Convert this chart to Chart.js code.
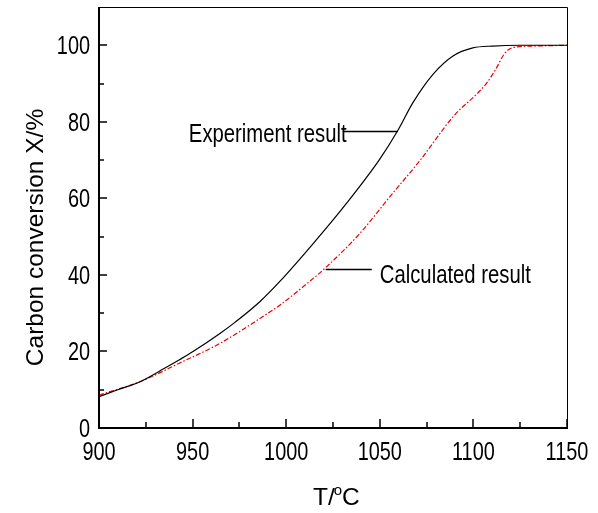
<!DOCTYPE html>
<html>
<head>
<meta charset="utf-8">
<script src="https://cdn.jsdelivr.net/npm/chart.js@4"></script>
<style>
  html, body { margin: 0; padding: 0; background: #fff; }
  #wrap { width: 598px; height: 513px; }
</style>
</head>
<body>
<div id="wrap"><canvas id="mychart" width="598" height="513"></canvas></div>
<script>
// experiment result (black)
const expT = [900, 910, 921.9, 935, 943.2, 950, 964.6, 972.6, 985.9, 996.6, 1014.4, 1032.2, 1049.9, 1059.7, 1067.7, 1078.4, 1089.1, 1099.7, 1110.4, 1125, 1150];
const expX = [8.2, 10.0, 12.1, 15.6, 17.9, 19.9, 24.7, 27.6, 33.0, 38.3, 48.2, 58.7, 70.2, 77.8, 85.0, 92.4, 97.2, 99.3, 99.8, 100, 100];
// calculated result (red)
const calT = [900, 921.9, 943.2, 964.6, 985.9, 996.6, 1008, 1020.6, 1039.3, 1055.3, 1071.3, 1089.1, 1106.9, 1112, 1116.6, 1121.1, 1133, 1150];
const calX = [8.6, 12.1, 17.0, 22.1, 28.6, 32.1, 36.5, 41.7, 50.8, 60.4, 69.8, 81.3, 90.0, 93.8, 97.8, 99.4, 99.8, 100];

const xTicks = [900, 950, 1000, 1050, 1100, 1150];
const xMinor = [925, 975, 1025, 1075, 1125];
const yTicks = [0, 20, 40, 60, 80, 100];
const yMinor = [10, 30, 50, 70, 90];

// label text, anchored in data units
const notes = [
  { text: "Experiment result", x: 948, y: 74.6, line: [1030.2, 1059.5, 77.5] },
  { text: "Calculated result", x: 1050, y: 38.0, line: [1021.1, 1045.7, 41.5] }
];

const ctx = document.getElementById("mychart");
const NARROW = 0.78;

function toPoints(xs, ys) {
  let pts = [];
  for (let i = 0; i < xs.length; i++) {
    pts.push({ x: xs[i], y: ys[i] });
  }
  return pts;
}

// condensed look: squeeze Arial-like text horizontally
function narrowText(c, text, x, y, align) {
  c.save();
  c.translate(x, y);
  c.scale(NARROW, 1);
  c.textAlign = align;
  c.fillText(text, 0, 0);
  c.restore();
}

const frame = {
  id: "frame",
  afterDatasetsDraw(chart) {
    const c = chart.ctx;
    const a = chart.chartArea;
    const xs = chart.scales.x;
    const ys = chart.scales.y;
    c.save();
    c.strokeStyle = "#000";
    c.fillStyle = "#000";
    // box
    c.lineWidth = 1;
    c.beginPath();
    c.moveTo(a.left, a.top + 0.5);
    c.lineTo(a.right + 0.5, a.top + 0.5);
    c.lineTo(a.right + 0.5, a.bottom);
    c.stroke();
    c.lineWidth = 2;
    c.beginPath();
    c.moveTo(a.left, a.top);
    c.lineTo(a.left, a.bottom);
    c.lineTo(a.right + 1, a.bottom);
    c.stroke();
    // inward ticks
    c.lineWidth = 1.5;
    c.beginPath();
    xTicks.forEach(v => { let p = Math.round(xs.getPixelForValue(v)); c.moveTo(p, a.bottom); c.lineTo(p, a.bottom - 9); });
    xMinor.forEach(v => { let p = Math.round(xs.getPixelForValue(v)); c.moveTo(p, a.bottom); c.lineTo(p, a.bottom - 6); });
    yTicks.forEach(v => { let p = Math.round(ys.getPixelForValue(v)); c.moveTo(a.left, p); c.lineTo(a.left + 8, p); });
    yMinor.forEach(v => { let p = Math.round(ys.getPixelForValue(v)); c.moveTo(a.left, p); c.lineTo(a.left + 5, p); });
    c.stroke();

    // tick labels
    c.font = "25.5px 'Liberation Sans', Arial";
    c.textBaseline = "alphabetic";
    xTicks.forEach(v => narrowText(c, String(v), xs.getPixelForValue(v), a.bottom + 32, "center"));
    yTicks.forEach(v => narrowText(c, String(v), a.left - 9, ys.getPixelForValue(v) + 9, "right"));

    // annotations
    c.font = "26px 'Liberation Sans', Arial";
    c.lineWidth = 1.5;
    notes.forEach(n => {
      narrowText(c, n.text, xs.getPixelForValue(n.x), ys.getPixelForValue(n.y), "left");
      let ly = Math.round(ys.getPixelForValue(n.line[2])) + 0.5;
      c.beginPath();
      c.moveTo(xs.getPixelForValue(n.line[0]), ly);
      c.lineTo(xs.getPixelForValue(n.line[1]), ly);
      c.stroke();
    });

    // axis titles
    c.font = "24.5px 'Liberation Sans', Arial";
    c.save();
    c.translate(43, (a.top + a.bottom) / 2 + 20);
    c.rotate(-Math.PI / 2);
    c.textAlign = "center";
    c.fillText("Carbon conversion X/%", 0, 0);
    c.restore();

    let tx = 313, ty = 505;
    c.textAlign = "left";
    c.fillText("T/", tx, ty);
    tx += c.measureText("T/").width;
    c.font = "15px 'Liberation Sans', Arial";
    c.fillText("o", tx - 1, ty - 10);
    tx += c.measureText("o").width - 1;
    c.font = "24.5px 'Liberation Sans', Arial";
    c.fillText("C", tx, ty);
    c.restore();
  }
};

let mychart = new Chart(ctx, {
  type: "line",
  data: {
    datasets: [
      {
        label: "Experiment result",
        data: toPoints(expT, expX),
        borderColor: "#000",
        borderWidth: 1.2,
        pointRadius: 0,
        fill: false,
        cubicInterpolationMode: "monotone"
      },
      {
        label: "Calculated result",
        data: toPoints(calT, calX),
        borderColor: "rgb(235,0,0)",
        borderWidth: 1.2,
        borderDash: [5, 2, 1.5, 2],
        pointRadius: 0,
        fill: false,
        cubicInterpolationMode: "monotone"
      }
    ]
  },
  options: {
    responsive: false,
    animation: false,
    layout: { padding: { left: 0, top: 7, right: 31, bottom: 0 } },
    plugins: { legend: { display: false }, tooltip: { enabled: false } },
    scales: {
      x: {
        type: "linear",
        min: 900,
        max: 1150,
        afterFit: s => { s.height = 85; },
        afterBuildTicks: s => { s.ticks = xTicks.map(v => ({ value: v })); },
        grid: { display: false, drawTicks: false },
        border: { display: false },
        ticks: { display: false }
      },
      y: {
        type: "linear",
        min: 0,
        max: 110,
        afterFit: s => { s.width = 99; },
        afterBuildTicks: s => { s.ticks = yTicks.map(v => ({ value: v })); },
        grid: { display: false, drawTicks: false },
        border: { display: false },
        ticks: { display: false }
      }
    }
  },
  plugins: [frame]
});
</script>
</body>
</html>
